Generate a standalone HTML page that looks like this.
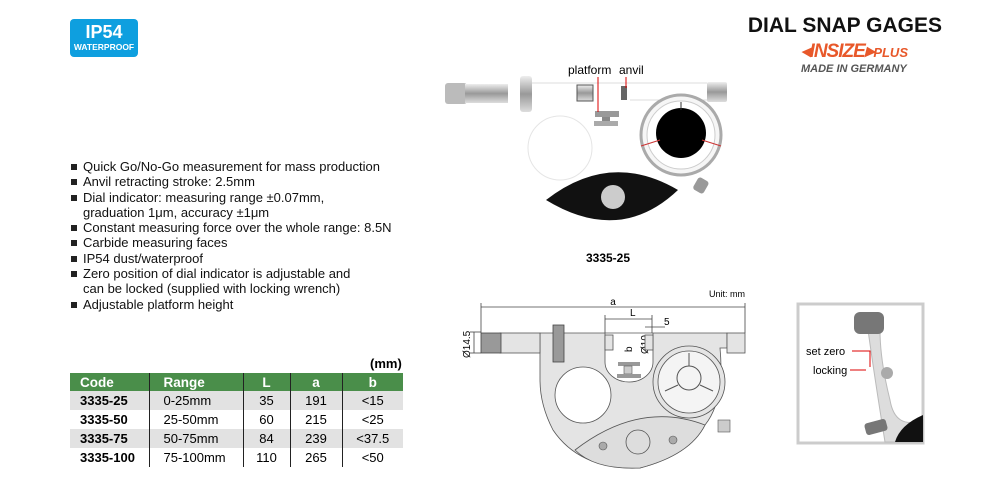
<!DOCTYPE html>
<html><head><meta charset="utf-8"><style>
body{margin:0;width:1000px;height:496px;background:#fff;font-family:"Liberation Sans",sans-serif;position:relative;overflow:hidden}
.a{position:absolute;white-space:nowrap}
ul{position:absolute;left:70px;top:159px;margin:0;padding:0;list-style:none;font-size:13px;line-height:15.3px;color:#111}
ul li{padding-left:13px;position:relative}
ul li.b:before{content:"";position:absolute;left:1px;top:5px;width:6px;height:6px;background:#222}
table{position:absolute;left:70px;top:373px;border-collapse:collapse;font-size:13px;width:333px;table-layout:fixed}
td,th{height:19px;padding:0;border-right:1px solid #222;overflow:hidden}
th{background:#4a8e4a;color:#fff;font-weight:bold;font-size:13.5px;height:18px}
td:last-child,th:last-child{border-right:none}
tr.g td{background:#e2e2e2}
.c{padding-left:10px}
.r{padding-left:14px;text-align:left}
</style></head><body>
<div class="a" style="left:70px;top:19px;width:68px;height:38px;background:#0e9fdf;border-radius:4px;color:#fff;text-align:center">
<div style="font-weight:bold;font-size:18px;line-height:20px;margin-top:3px">IP54</div>
<div style="font-weight:bold;font-size:8.5px;line-height:11px">WATERPROOF</div></div>
<div class="a" style="right:58px;top:14px;font-size:21px;font-weight:bold;color:#111">DIAL SNAP GAGES</div>
<div class="a" style="left:801px;top:40px;font-size:19px;font-weight:bold;font-style:italic;color:#e8582a;letter-spacing:-1px">◂INSIZE▸<span style="font-size:13px;letter-spacing:0">PLUS</span></div>
<div class="a" style="left:801px;top:63px;font-size:11px;font-weight:bold;font-style:italic;color:#555">MADE IN GERMANY</div>
<ul>
<li class="b">Quick Go/No-Go measurement for mass production</li>
<li class="b">Anvil retracting stroke: 2.5mm</li>
<li class="b">Dial indicator: measuring range ±0.07mm,</li>
<li>graduation 1μm, accuracy ±1μm</li>
<li class="b">Constant measuring force over the whole range: 8.5N</li>
<li class="b">Carbide measuring faces</li>
<li class="b">IP54 dust/waterproof</li>
<li class="b">Zero position of dial indicator is adjustable and</li>
<li>can be locked (supplied with locking wrench)</li>
<li class="b">Adjustable platform height</li>
</ul>
<div class="a" style="left:370px;top:356px;font-size:13px;font-weight:bold">(mm)</div>
<table>
<colgroup><col style="width:79px"><col style="width:94px"><col style="width:47px"><col style="width:52px"><col style="width:61px"></colgroup>
<tr><th class="c" style="text-align:left">Code</th><th class="r">Range</th><th>L</th><th>a</th><th>b</th></tr>
<tr class="g"><td class="c"><b>3335-25</b></td><td class="r">0-25mm</td><td align="center">35</td><td align="center">191</td><td align="center">&lt;15</td></tr>
<tr><td class="c"><b>3335-50</b></td><td class="r">25-50mm</td><td align="center">60</td><td align="center">215</td><td align="center">&lt;25</td></tr>
<tr class="g"><td class="c"><b>3335-75</b></td><td class="r">50-75mm</td><td align="center">84</td><td align="center">239</td><td align="center">&lt;37.5</td></tr>
<tr><td class="c"><b>3335-100</b></td><td class="r">75-100mm</td><td align="center">110</td><td align="center">265</td><td align="center">&lt;50</td></tr>
</table>
<svg class="a" style="left:0;top:0" width="1000" height="496" font-family="Liberation Sans,sans-serif">
<defs><linearGradient id="m" x1="0" y1="0" x2="0" y2="1"><stop offset="0" stop-color="#eee"/><stop offset=".5" stop-color="#999"/><stop offset="1" stop-color="#ddd"/></linearGradient></defs>
<rect x="445" y="83" width="22" height="21" rx="3" fill="#bbb"/>
<rect x="465" y="84" width="43" height="19" fill="url(#m)"/>
<rect x="520" y="76" width="12" height="36" rx="3" fill="url(#m)"/>
<rect x="577" y="85" width="16" height="16" fill="url(#m)" stroke="#555" stroke-width="1"/>
<rect x="621" y="86" width="6" height="14" fill="#666"/>
<rect x="707" y="82" width="20" height="20" rx="2" fill="url(#m)"/>
<line x1="532" y1="83" x2="707" y2="83" stroke="#ddd"/><line x1="630" y1="100" x2="707" y2="100" stroke="#ddd"/>
<circle cx="560" cy="148" r="32" fill="none" stroke="#e5e5e5"/>
<rect x="595" y="111" width="24" height="6" fill="#999"/><rect x="602" y="117" width="8" height="8" fill="#888"/><rect x="594" y="121" width="24" height="5" fill="#aaa"/>
<line x1="598" y1="77" x2="598" y2="112" stroke="#d00" stroke-width="1"/>
<line x1="626" y1="77" x2="626" y2="88" stroke="#d00" stroke-width="1"/>
<text x="568" y="74" font-size="12">platform</text><text x="619" y="74" font-size="12">anvil</text>
<circle cx="681" cy="135" r="40" fill="#f6f6f6" stroke="#aaa" stroke-width="3"/>
<circle cx="681" cy="135" r="34" fill="#fff" stroke="#ccc"/>
<circle cx="681" cy="133" r="25" fill="#000"/>
<line x1="641" y1="146" x2="660" y2="140" stroke="#c33"/><line x1="702" y1="140" x2="721" y2="146" stroke="#c33"/>
<line x1="681" y1="102" x2="681" y2="110" stroke="#333"/>
<path d="M546 200 Q610 150 678 190 Q620 245 546 200Z" fill="#111"/>
<circle cx="613" cy="197" r="12" fill="#ccc"/>
<rect x="695" y="178" width="12" height="14" rx="3" fill="#999" transform="rotate(30 700 185)"/>
<text x="608" y="262" font-size="12" font-weight="bold" text-anchor="middle">3335-25</text>
<text x="745" y="297" font-size="9" text-anchor="end">Unit: mm</text>
<g stroke="#444" stroke-width="0.8" fill="none">
<line x1="481" y1="307" x2="745" y2="307"/><line x1="481" y1="303" x2="481" y2="333"/><line x1="745" y1="303" x2="745" y2="333"/>
<line x1="605" y1="319" x2="652" y2="319"/><line x1="605" y1="315" x2="605" y2="333"/><line x1="652" y1="315" x2="652" y2="333"/>
<line x1="645" y1="327" x2="665" y2="327"/>
<line x1="470" y1="332" x2="481" y2="332"/><line x1="470" y1="353" x2="481" y2="353"/><line x1="474" y1="332" x2="474" y2="353"/>
</g>
<text x="613" y="305" font-size="10" text-anchor="middle">a</text>
<text x="630" y="316" font-size="10">L</text><text x="664" y="325" font-size="10">5</text>
<text x="470" y="358" font-size="10" transform="rotate(-90 470 358)">Ø14.5</text>
<text x="648" y="354" font-size="10" transform="rotate(-90 648 354)">Ø10</text>
<text x="632" y="352" font-size="10" transform="rotate(-90 632 352)">b</text>
<path d="M540 333 H727 V348 L720 348 Q725 400 705 425 Q690 455 640 468 Q580 470 553 430 Q540 405 540 380Z M605 333 V362 A24 20 0 0 0 653 362 V333Z" fill="#e4e4e4" fill-rule="evenodd" stroke="#555" stroke-width="0.8"/>
<rect x="500" y="333" width="40" height="20" fill="#e4e4e4" stroke="#555" stroke-width=".8"/>
<rect x="481" y="333" width="20" height="20" fill="#999" stroke="#444" stroke-width=".8"/>
<rect x="727" y="333" width="18" height="20" fill="#e4e4e4" stroke="#555" stroke-width=".8"/>
<rect x="553" y="325" width="11" height="37" fill="#999" stroke="#444" stroke-width=".8"/>
<rect x="605" y="335" width="8" height="15" fill="#e4e4e4" stroke="#555" stroke-width=".8"/>
<rect x="645" y="335" width="8" height="15" fill="#e4e4e4" stroke="#555" stroke-width=".8"/>
<rect x="618" y="362" width="22" height="4" fill="#999"/><rect x="624" y="366" width="8" height="8" fill="#ccc" stroke="#555" stroke-width=".6"/><rect x="617" y="374" width="24" height="4" fill="#999"/>
<circle cx="583" cy="395" r="28" fill="#fff" stroke="#555" stroke-width=".8"/>
<circle cx="689" cy="382" r="36" fill="#e4e4e4" stroke="#555" stroke-width=".8"/>
<circle cx="689" cy="382" r="31" fill="#f4f4f4" stroke="#555" stroke-width=".8"/>
<circle cx="689" cy="378" r="12" fill="none" stroke="#555" stroke-width="1"/>
<g stroke="#555"><line x1="689" y1="366" x2="689" y2="353"/><line x1="678" y1="385" x2="665" y2="391"/><line x1="700" y1="385" x2="713" y2="391"/></g>
<path d="M575 450 Q640 400 705 425 Q690 455 640 468 Q595 470 575 450Z" fill="#ddd" stroke="#555" stroke-width=".8"/>
<circle cx="638" cy="442" r="12" fill="none" stroke="#555" stroke-width=".8"/>
<circle cx="603" cy="446" r="4" fill="#aaa" stroke="#555" stroke-width=".6"/><circle cx="673" cy="440" r="4" fill="#aaa" stroke="#555" stroke-width=".6"/>
<rect x="718" y="420" width="12" height="12" fill="#ccc" stroke="#555" stroke-width=".6"/>
<rect x="798" y="304" width="125" height="139" fill="#fff" stroke="#ccc" stroke-width="3"/>
<path d="M868 330 Q875 380 885 442 L923 442 V420 Q895 430 890 400 Q880 360 880 330Z" fill="#ddd" stroke="#bbb"/>
<path d="M895 442 Q900 425 923 415 V442Z" fill="#111"/>
<rect x="854" y="312" width="30" height="22" rx="6" fill="#777"/>
<circle cx="887" cy="373" r="6" fill="#aaa"/>
<rect x="865" y="421" width="22" height="12" rx="3" fill="#777" transform="rotate(-15 876 427)"/>
<text x="806" y="355" font-size="11">set zero</text><text x="813" y="374" font-size="11">locking</text>
<path d="M852 351 H870 V367" stroke="#d00" fill="none"/><line x1="850" y1="370" x2="866" y2="370" stroke="#d00"/>
</svg>
</body></html>
